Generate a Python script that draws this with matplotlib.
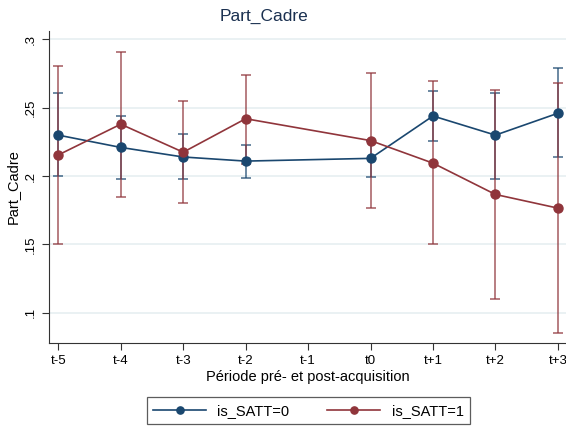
import numpy as np
import matplotlib
matplotlib.use("Agg")
import matplotlib.pyplot as plt

plt.rcParams['font.family'] = ['Liberation Sans', 'DejaVu Sans']

# periods (t-1 has no observations)
tick_labels = ["t-5", "t-4", "t-3", "t-2", "t-1", "t0", "t+1", "t+2", "t+3"]
tick_pos = [-5, -4, -3, -2, -1, 0, 1, 2, 3]
periods = [-5, -4, -3, -2, 0, 1, 2, 3]

# is_SATT=0
mean0 = [0.230, 0.221, 0.214, 0.211, 0.213, 0.244, 0.230, 0.246]
low0 = [0.200, 0.198, 0.198, 0.1985, 0.1995, 0.226, 0.198, 0.214]
high0 = [0.261, 0.244, 0.231, 0.223, 0.226, 0.262, 0.261, 0.279]

# is_SATT=1
mean1 = [0.2155, 0.238, 0.2175, 0.242, 0.226, 0.2095, 0.1866, 0.1766]
low1 = [0.150, 0.185, 0.180, 0.209, 0.177, 0.150, 0.110, 0.085]
high1 = [0.2806, 0.291, 0.2553, 0.2743, 0.2753, 0.2694, 0.2633, 0.2682]

blue = "#1a476f"
red = "#90353b"

fig = plt.figure(figsize=(5.66, 4.26), dpi=100)
ax = fig.add_axes([0.0866, 0.195, 0.9134, 0.733])

for y in [0.1, 0.15, 0.2, 0.25, 0.3]:
    ax.axhline(y, color="#e6eff1", lw=1.2, zorder=0)

for m, lo, hi, c, lab in [(mean0, low0, high0, blue, "is_SATT=0"),
                          (mean1, low1, high1, red, "is_SATT=1")]:
    m = np.array(m)
    err = [m - np.array(lo), np.array(hi) - m]
    ax.errorbar(periods, m, yerr=err, fmt="none", ecolor=c, alpha=0.75,
                elinewidth=1.2, capsize=3.5, capthick=1.2, zorder=2)
    ax.plot(periods, m, color=c, lw=1.2, marker="o", markersize=6.5,
            label=lab, zorder=3)

ax.set_xlim(-5.149, 3.13)
ax.set_ylim(0.078, 0.3064)
ax.set_xticks(tick_pos)
ax.set_xticklabels(tick_labels)
ax.set_yticks([0.1, 0.15, 0.2, 0.25, 0.3])
ax.set_yticklabels([".1", ".15", ".2", ".25", ".3"], rotation=90, va="center")
ax.tick_params(axis="both", labelsize=9.5, length=5, color="#333333",
               direction="out")
for s in ["top", "right"]:
    ax.spines[s].set_visible(False)
for s in ["left", "bottom"]:
    ax.spines[s].set_color("#333333")

ax.set_xlabel("Période pré- et post-acquisition", fontsize=10.5, labelpad=2)
ax.set_ylabel("Part_Cadre", fontsize=10.5, labelpad=4)
fig.text(0.466, 0.962, "Part_Cadre", fontsize=12.5, color="#1a3050",
         ha="center", va="center")

leg = fig.legend(loc="center", bbox_to_anchor=(0.545, 0.036), ncol=2,
                 fontsize=10.5, frameon=True, fancybox=False,
                 edgecolor="#333333", handlelength=3.6, columnspacing=2.6,
                 borderpad=0.45, markerscale=0.8)
leg.get_frame().set_linewidth(0.9)

fig.savefig("out.png", dpi=100)
